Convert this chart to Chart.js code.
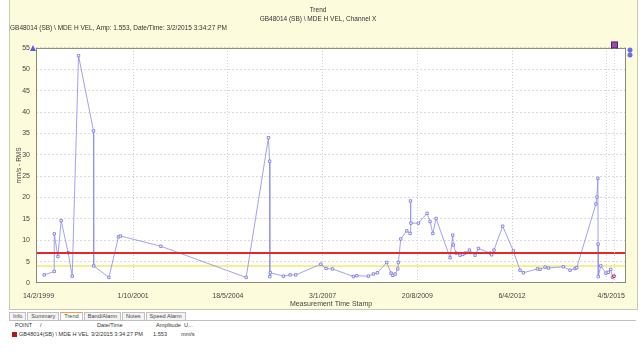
<!DOCTYPE html>
<html>
<head>
<meta charset="utf-8">
<script src="https://cdn.jsdelivr.net/npm/chart.js@4/dist/chart.umd.min.js"></script>
<style>
    body { margin: 0; background: #fff; font-family: "Liberation Sans", Arial, sans-serif; }
    #wrap { position: relative; width: 644px; height: 351px; overflow: hidden; }
    #panel { position: absolute; left: 9px; top: 0; width: 627px; height: 309px; background: #fcfcdc; border: 1px solid #c8c8b4; border-top: none; }
    #grafik { position: absolute; left: 0; top: 0; }
    #tabs { position: absolute; left: 9px; top: 312px; height: 8px; font-size: 5.6px; color: #444; white-space: nowrap; border-bottom: 1px solid #c0c0c0; width: 627px; }
    #tabs span { display: inline-block; padding: 0 3px; border: 1px solid #c0c0c0; border-bottom: none; line-height: 7px; margin-right: 1px; background: #f4f4f4; }
    #tabs span.on { background: #fff; border-top: 1px solid #f0a030; }
    .row { position: absolute; left: 12px; font-size: 5.6px; color: #333; white-space: nowrap; }
    .row b { position: absolute; font-weight: normal; }
</style>
</head>
<body>
<div id="wrap">
    <div id="panel"></div>
    <canvas id="grafik" width="644" height="310"></canvas>
    <div id="tabs"><span>Info</span><span>Summary</span><span class="on">Trend</span><span>Band/Alarm</span><span>Notes</span><span>Speed Alarm</span></div>
    <div class="row" style="top:322px"><b style="left:3px">POINT</b><b style="left:28px">/</b><b style="left:85px">Date/Time</b><b style="left:144px">Amplitude</b><b style="left:172px">U...</b></div>
    <div class="row" style="top:331px"><b style="left:0;top:1px;width:5px;height:5px;background:#b01818"></b><b style="left:7px">GB48014(SB) \ MDE H VEL</b><b style="left:79px">3/2/2015 3:34:27 PM</b><b style="left:141px">1.553</b><b style="left:169px">mm/s</b></div>
</div>
<script>
    // days counted from 14/2/1999
    const DAYS = [
        58, 160, 160, 197, 230, 301, 342, 406, 558, 560,
        714, 811, 830, 1241, 2105, 2331, 2343, 2345, 2350, 2483,
        2551, 2608, 2862, 2915, 2980, 3192, 3227, 3344, 3395, 3435,
        3530, 3574, 3592, 3615, 3642, 3648, 3672, 3733, 3767, 3770,
        3775, 3851, 3939, 3969, 3997, 4030, 4172, 4199, 4205, 4233,
        4273, 4300, 4324, 4368, 4425, 4459, 4577, 4594, 4617, 4705,
        4813, 4881, 4915, 5057, 5084, 5135, 5169, 5320, 5388, 5439,
        5456, 5650, 5660, 5670, 5672, 5674, 5699, 5752, 5775, 5800,
        5818, 5833
    ];

    const AMP = [
        1.9, 2.7, 11.5, 6.2, 14.6, 7.1, 1.6, 53.2, 35.6, 4.0,
        1.3, 10.8, 11.0, 8.6, 1.3, 34.0, 28.5, 1.5, 2.4, 1.6,
        1.9, 1.9, 4.4, 3.4, 3.3, 1.5, 1.7, 1.6, 2.1, 2.4,
        4.8, 2.3, 1.8, 2.1, 3.3, 4.8, 10.3, 12.2, 11.6, 19.2,
        14.0, 14.0, 16.3, 14.4, 11.6, 15.1, 5.9, 11.2, 8.9, 7.0,
        6.5, 6.7, 7.0, 7.7, 6.5, 8.1, 7.0, 6.6, 7.7, 13.3,
        7.5, 3.0, 2.4, 3.3, 3.2, 3.7, 3.5, 3.8, 3.0, 3.4,
        3.6, 18.5, 20.1, 24.5, 9.1, 1.5, 4.0, 2.3, 2.5, 3.2,
        1.3, 1.6
    ];

    const X_TICKS = [0, 960, 1920, 2880, 3840, 4800, 5760, 5805];
    const X_LABELS = ['14/2/1999', '1/10/2001', '18/5/2004', '3/1/2007', '20/8/2009', '6/4/2012', '', '4/5/2015'];
    const X_MIN = -25;
    const X_MAX = 5955;

    const ALARM = 7;
    const ALERT = 4;

    const FONT = { family: '"Liberation Sans", Arial, sans-serif', size: 7 };

    const points = DAYS.map((d, i) => ({ x: d, y: AMP[i] }));
    const last = points.length - 1;

    const frame = {
        id: 'frame',
        beforeDatasetsDraw(chart) {
            const a = chart.chartArea;
            const c = chart.ctx;
            c.save();
            c.fillStyle = '#ffffff';
            c.globalCompositeOperation = 'destination-over';
            c.fillRect(a.left, a.top, a.right - a.left, a.bottom - a.top);
            c.restore();
        },
        afterDraw(chart) {
            const a = chart.chartArea;
            const c = chart.ctx;
            const xs = chart.scales.x;
            c.save();
            c.strokeStyle = '#8a8a78';
            c.lineWidth = 1;
            c.strokeRect(a.left + 0.5, a.top + 0.5, a.right - a.left - 1, a.bottom - a.top - 1);
            // cursor
            const cx = Math.round(xs.getPixelForValue(DAYS[last])) + 0.5;
            c.strokeStyle = '#d0d0d0';
            c.setLineDash([1, 2]);
            c.beginPath();
            c.moveTo(cx, a.top);
            c.lineTo(cx, a.bottom);
            c.stroke();
            c.setLineDash([]);
            c.fillStyle = '#9a4ab0';
            c.fillRect(cx - 3, a.top - 6, 6, 6);
            c.strokeStyle = '#502060';
            c.strokeRect(cx - 3, a.top - 6, 6, 6);
            c.fillStyle = '#5a5ae6';
            c.beginPath();
            c.moveTo(a.left - 6, a.top + 3);
            c.lineTo(a.left - 3, a.top - 3);
            c.lineTo(a.left, a.top + 3);
            c.fill();
            c.fillStyle = '#6a6aea';
            c.beginPath();
            c.arc(a.right + 4, a.top + 2, 2.5, 0, Math.PI * 2);
            c.arc(a.right + 4, a.top + 7, 2.5, 0, Math.PI * 2);
            c.fill();
            c.restore();
        }
    };

    const chart = new Chart(document.getElementById('grafik'), {
        type: 'line',
        data: {
            datasets: [
                {
                    label: 'Alarm',
                    data: [{ x: X_MIN, y: ALARM }, { x: X_MAX, y: ALARM }],
                    borderColor: '#e42828',
                    borderWidth: 2,
                    pointRadius: 0,
                    order: 0
                },
                {
                    label: 'Alert',
                    data: [{ x: X_MIN, y: ALERT }, { x: X_MAX, y: ALERT }],
                    borderColor: '#f4f08a',
                    borderWidth: 2,
                    pointRadius: 0,
                    order: 2
                },
                {
                    label: 'GB48014 (SB) \\ MDE H VEL',
                    data: points,
                    borderColor: 'rgba(145, 145, 238, 0.85)',
                    borderWidth: 1,
                    pointStyle: 'rect',
                    pointRadius: 1.7,
                    pointBorderWidth: 1,
                    pointBorderColor: (ctx) => ctx.dataIndex === last ? '#b02050' : 'rgba(125, 125, 232, 0.9)',
                    pointBackgroundColor: '#ffffff',
                    order: 1
                }
            ]
        },
        options: {
            responsive: false,
            animation: false,
            layout: { padding: { left: 10, right: 18, top: 0, bottom: 0 } },
            scales: {
                x: {
                    type: 'linear',
                    min: X_MIN,
                    max: X_MAX,
                    afterBuildTicks: (s) => { s.ticks = X_TICKS.map(v => ({ value: v })); },
                    afterFit: (s) => { s.height = 27; },
                    border: { display: false, dash: [1, 2] },
                    grid: {
                        drawTicks: false,
                        color: (ctx) => (ctx.tick && (ctx.tick.value === 0 || ctx.tick.value === 5805)) ? 'rgba(0,0,0,0)' : '#cdcdcd',
                        lineWidth: 1
                    },
                    ticks: {
                        autoSkip: false,
                        maxRotation: 0,
                        padding: 9,
                        color: '#444',
                        font: FONT,
                        callback: (v) => X_LABELS[X_TICKS.indexOf(v)] ?? ''
                    },
                    title: {
                        display: true,
                        text: 'Measurement Time Stamp',
                        color: '#444',
                        font: FONT,
                        padding: { top: 0, bottom: 2 }
                    }
                },
                y: {
                    min: 0,
                    max: 55,
                    afterFit: (s) => { s.width = 26; },
                    border: { display: false, dash: [2, 2] },
                    grid: {
                        drawTicks: false,
                        color: (ctx) => ctx.tick && ctx.tick.value === 0 ? 'rgba(0,0,0,0)' : '#dadada'
                    },
                    ticks: {
                        stepSize: 5,
                        padding: 6,
                        color: '#444',
                        font: FONT
                    },
                    title: {
                        display: true,
                        text: 'mm/s - RMS',
                        color: '#444',
                        font: { family: FONT.family, size: 6.5 },
                        padding: { top: 5, bottom: 0 }
                    }
                }
            },
            plugins: {
                legend: { display: false },
                tooltip: { enabled: false },
                title: {
                    display: true,
                    text: ['Trend', 'GB48014 (SB) \\ MDE H VEL, Channel X'],
                    color: '#333',
                    font: { family: FONT.family, size: 6.5, weight: 'normal', lineHeight: 1.45 },
                    padding: { top: 5, bottom: 0 }
                },
                subtitle: {
                    display: true,
                    align: 'start',
                    text: 'GB48014 (SB) \\ MDE H VEL, Amp: 1.553, Date/Time: 3/2/2015 3:34:27 PM',
                    color: '#333',
                    font: { family: FONT.family, size: 6.5, lineHeight: 1.4 },
                    padding: { top: 0, bottom: 15 }
                }
            }
        },
        plugins: [frame]
    });
</script>
</body>
</html>
